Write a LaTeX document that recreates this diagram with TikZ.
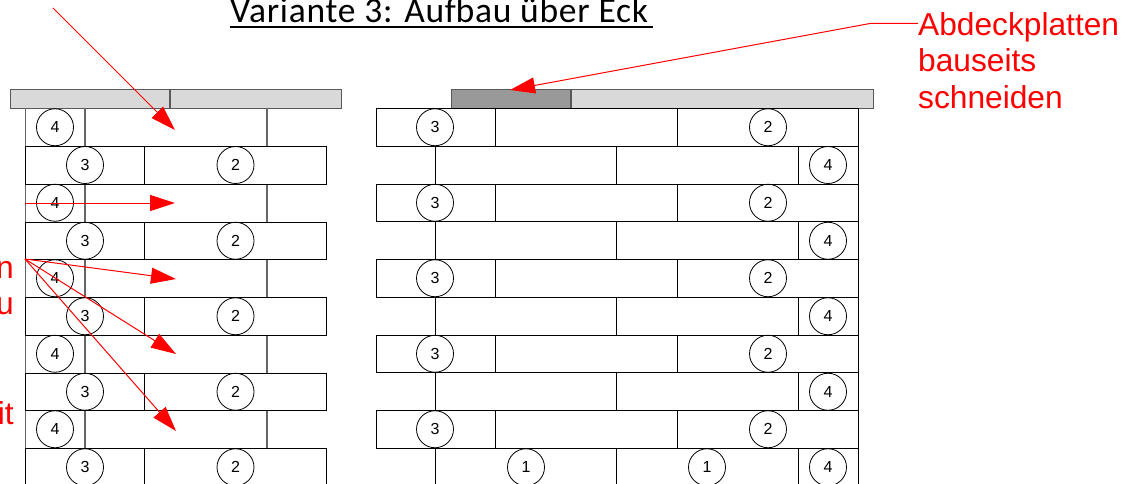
\documentclass[tikz,border=0pt]{standalone}
\usepackage{fontspec}
\setmainfont{Liberation Sans}
\newfontfamily\titlefont[LetterSpace=2.1]{Carlito}
\usetikzlibrary{arrows.meta}
\tikzset{
  x=1pt,y=-1pt,
  wall/.style={draw=black,line width=1pt},
  wallgray/.style={draw=black!60,line width=1.4pt},
  plate/.style={draw=black!65,line width=1pt,fill=black!15},
  platedark/.style={draw=black!65,line width=1pt,fill=black!40},
  num/.style={draw=black,circle,line width=0.8pt,minimum size=37pt,inner sep=0pt,font=\fontsize{16}{16}\selectfont},
  redlabel/.style={text=red,font=\fontsize{31.7}{37}\selectfont,inner sep=0pt},
  calloutarrow/.style={draw=red,line width=1pt,-{Triangle[length=25pt,width=16pt,fill=red]}},
}
\begin{document}
\begin{tikzpicture}
\useasboundingbox (0,0) rectangle (1138,484);
\clip (0,0) rectangle (1138,484);
\fill[white] (0,0) rectangle (1138,484);
% title
\node[anchor=base west,inner sep=0pt,font=\titlefont\fontsize{35.5}{35.5}\selectfont] (title) at (230,22.5) {Variante 3: Aufbau über Eck};
\draw[line width=1.6pt] (229.5,27) -- (653,27);
% cover plates
\draw[plate] (10,90) rectangle (169,108.5);
\draw[plate] (170,90) rectangle (341,108.5);
\draw[platedark] (451,90) rectangle (570,108.5);
\draw[plate] (571.5,90) rectangle (873,108.5);
% left wall, courses with piece 4
\foreach \i/\t in {0/108.5,2/184,4/259.5,6/335,8/410.5}{
  \pgfmathsetmacro{\b}{\t+37.75}
  \pgfmathsetmacro{\c}{\t+18.75}
  \draw[wallgray] (25.2,\t) -- (25.2,\b) (85.1,\t) -- (85.1,\b) (267,\t) -- (267,\b);
  \node[num] (L4-\i) at (55,\c) {4};
}
% left wall, courses with pieces 3 and 2
\foreach \i/\t in {1/146.25,3/222,5/297.5,7/373,9/448.5}{
  \pgfmathsetmacro{\b}{\t+37.75}
  \pgfmathsetmacro{\c}{\t+18.75}
  \draw[wall] (25.5,\t) rectangle (326.5,\b) (144.5,\t) -- (144.5,\b);
  \node[num] (L3-\i) at (85,\c) {3};
  \node[num] (L2-\i) at (235.5,\c) {2};
}
% right wall, courses with pieces 3 and 2
\foreach \i/\t in {0/108.5,2/184,4/259.5,6/335,8/410.5}{
  \pgfmathsetmacro{\b}{\t+37.75}
  \pgfmathsetmacro{\c}{\t+18.75}
  \draw[wall] (376,\t) rectangle (858.5,\b) (495.5,\t) -- (495.5,\b) (677,\t) -- (677,\b);
  \node[num] (R3-\i) at (435,\c) {3};
  \node[num] (R2-\i) at (768,\c) {2};
}
% right wall, courses with piece 4
\foreach \i/\t in {1/146.25,3/222,5/297.5,7/373,9/448.5}{
  \pgfmathsetmacro{\b}{\t+37.75}
  \pgfmathsetmacro{\c}{\t+18.75}
  \draw[wall] (435.5,\t) -- (435.5,\b) (616.5,\t) -- (616.5,\b) (798,\t) -- (798,\b) (858.5,\t) -- (858.5,\b);
  \node[num] (R4-\i) at (828,\c) {4};
}
\node[num] (R1a) at (526,467.25) {1};
\node[num] (R1b) at (707,467.25) {1};
% red labels
\node[redlabel,anchor=base east] (lblA) at (14,278) {n};
\node[redlabel,anchor=base east] (lblB) at (14,314) {u};
\node[redlabel,anchor=base east] (lblC) at (14,424) {it};
\node[redlabel,anchor=base west] (lblD) at (918,35.5) {Abdeckplatten};
\node[redlabel,anchor=base west] (lblE) at (918,71.5) {bauseits};
\node[redlabel,anchor=base west] (lblF) at (918,108.5) {schneiden};
% callouts
\coordinate (s1) at (53,8);
\coordinate (t1) at (175,130);
\coordinate (s2) at (25,203);
\coordinate (t2) at (175,203);
\coordinate (s3) at (25,259);
\coordinate (t3) at (176,279);
\coordinate (t4) at (176,354);
\coordinate (t5) at (176,431);
\coordinate (s6) at (918,23.5);
\coordinate (k6) at (870,23.5);
\coordinate (t6) at (510,90);
\draw[calloutarrow] (s1) -- (t1);
\draw[calloutarrow] (s2) -- (t2);
\draw[calloutarrow] (s3) -- (t3);
\draw[calloutarrow] (s3) -- (t4);
\draw[calloutarrow] (s3) -- (t5);
\draw[calloutarrow] (s6) -- (k6) -- (t6);
\end{tikzpicture}
\end{document}
